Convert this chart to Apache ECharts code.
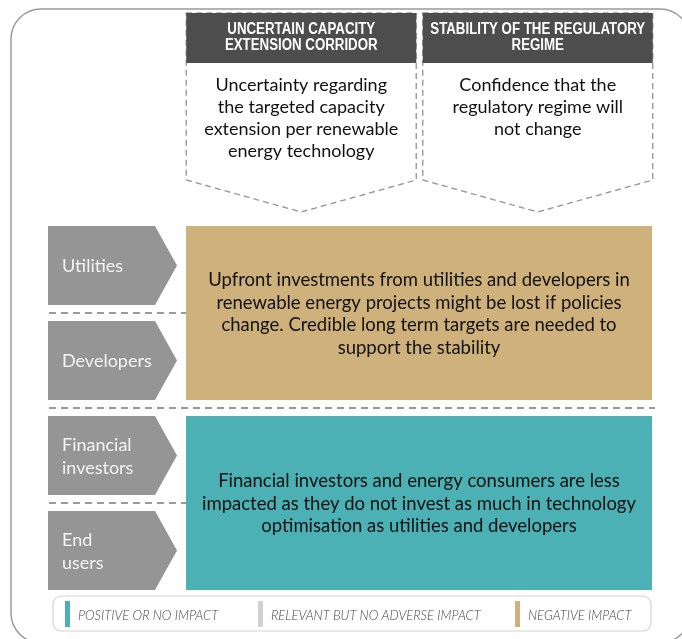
<!DOCTYPE html>
<html>
<head>
<meta charset="utf-8">
<script src="https://cdn.jsdelivr.net/npm/echarts@6/dist/echarts.min.js"></script>
<style>
  html, body { margin: 0; padding: 0; background: #fff; }
  #chart-container { width: 682px; height: 639px; }
</style>
</head>
<body>
<div id="chart-container"></div>
<script>
// Columns: the two policy aspects and their descriptions
const headers = ['UNCERTAIN CAPACITY\nEXTENSION CORRIDOR', 'STABILITY OF THE REGULATORY\nREGIME'];
const headerNotes = [
  'Uncertainty regarding\nthe targeted capacity\nextension per renewable\nenergy technology',
  'Confidence that the\nregulatory regime will\nnot change'
];

// Rows: stakeholders
const stakeholders = ['Utilities', 'Developers', 'Financial\ninvestors', 'End\nusers'];

// Impact levels (legend)
const impactLevels = ['POSITIVE OR NO IMPACT', 'RELEVANT BUT NO ADVERSE IMPACT', 'NEGATIVE IMPACT'];

// Impact blocks: first row, last row, impact level, text
const groupStartRow = [0, 2];
const groupEndRow = [1, 3];
const groupImpact = [2, 0];
const groupTexts = [
  'Upfront investments from utilities and developers in\nrenewable energy projects might be lost if policies\nchange. Credible long term targets are needed to\nsupport the stability',
  'Financial investors and energy consumers are less\nimpacted as they do not invest as much in technology\noptimisation as utilities and developers'
];

// styles
const impactColors = ['#4bb1b5', '#d1d1d1', '#cfb27b'];
const FONT = 'Lato, "Open Sans", sans-serif';
const BOLD = '"Liberation Sans", Arial, sans-serif';
const LEGEND_X = [65, 258, 515];

const chart = echarts.init(document.getElementById('chart-container'), null, { renderer: 'canvas' });

function chevronItem(params, api) {
  const row = api.value(1);
  const c = api.coord([0, row]);
  const size = api.size([1, 1]);
  const gridLeft = c[0] - size[0] / 2;
  const t = c[1] - size[1] / 2 + 8;
  const b = c[1] + size[1] / 2 - 8;
  const l = gridLeft - 135, br = gridLeft - 28, p = gridLeft - 6;
  return {
    type: 'group',
    children: [
      {
        type: 'polygon',
        shape: { points: [[l, t], [br, t], [p, c[1]], [br, b], [l, b]] },
        style: { fill: '#959595' }
      },
      {
        type: 'text',
        style: {
          text: stakeholders[row], x: l + 14, y: c[1] + 1,
          align: 'left', verticalAlign: 'middle',
          fontSize: 18, fontFamily: FONT, lineHeight: 23, fill: '#f4f4f4'
        }
      }
    ]
  };
}

function separatorItem(params, api) {
  const row = api.value(1); // boundary above this row
  const c = api.coord([0, row]);
  const size = api.size([1, 1]);
  const gridLeft = c[0] - size[0] / 2;
  const y = c[1] - size[1] / 2;
  const full = groupStartRow.indexOf(row) >= 0;
  const x2 = full ? gridLeft + size[0] * 2 - 1 : gridLeft + 3;
  return {
    type: 'line',
    shape: { x1: gridLeft - 134, y1: y, x2: x2, y2: y },
    style: { stroke: '#9a9a9a', lineWidth: 2, lineDash: [7, 5] }
  };
}

function impactItem(params, api) {
  const i = params.dataIndex;
  const top = api.coord([0, api.value(1)]);
  const bottom = api.coord([0, api.value(2)]);
  const size = api.size([1, 1]);
  const x0 = top[0] - size[0] / 2 + 3;
  const x1 = top[0] + size[0] * 1.5 - 4;
  const y0 = top[1] - size[1] / 2 + 8;
  const y1 = bottom[1] + size[1] / 2 - 8;
  return {
    type: 'group',
    children: [
      {
        type: 'rect',
        shape: { x: x0, y: y0, width: x1 - x0, height: y1 - y0 },
        style: { fill: impactColors[groupImpact[i]] }
      },
      {
        type: 'text',
        style: {
          text: groupTexts[i], x: (x0 + x1) / 2, y: (y0 + y1) / 2 + 1,
          align: 'center', verticalAlign: 'middle',
          fontSize: 18.5, fontFamily: FONT, lineHeight: 22.5, fill: '#111'
        }
      }
    ]
  };
}

function headerItem(params, api) {
  const col = api.value(0);
  const cx = api.coord([col, 0])[0];
  const w = 230;
  const x0 = cx - w / 2, x1 = cx + w / 2;
  return {
    type: 'group',
    children: [
      {
        type: 'polygon',
        shape: { points: [[x0, 13], [x1, 13], [x1, 180], [cx, 212], [x0, 180]] },
        style: { fill: '#fff', stroke: '#9a9a9a', lineWidth: 1.4, lineDash: [6, 4] }
      },
      {
        type: 'rect',
        shape: { x: x0, y: 13, width: w, height: 50 },
        style: { fill: '#4d4d4d' }
      },
      {
        // condensed bold title
        type: 'text',
        x: cx, y: 38, scaleX: 0.83,
        style: {
          text: headers[col], x: 0, y: 0,
          align: 'center', verticalAlign: 'middle',
          fontSize: 16, fontWeight: 'bold', fontFamily: BOLD, lineHeight: 16, fill: '#fff'
        }
      },
      {
        type: 'text',
        style: {
          text: headerNotes[col], x: cx, y: 74,
          align: 'center', verticalAlign: 'top',
          fontSize: 18, fontFamily: FONT, lineHeight: 22, fill: '#111'
        }
      }
    ]
  };
}

const legendGraphics = [
  {
    type: 'rect',
    shape: { x: 53, y: 596, width: 598, height: 35, r: 8 },
    style: { fill: '#fff', stroke: '#d4d4d4', lineWidth: 1.2 }
  }
];
impactLevels.forEach((name, i) => {
  legendGraphics.push({
    type: 'rect',
    shape: { x: LEGEND_X[i], y: 601, width: 5, height: 26 },
    style: { fill: impactColors[i] }
  });
  legendGraphics.push({
    type: 'text',
    style: {
      text: name, x: LEGEND_X[i] + 13, y: 616,
      align: 'left', verticalAlign: 'middle',
      fontSize: 13, fontStyle: 'italic', fontWeight: 300, fontFamily: FONT, fill: '#444'
    }
  });
});

chart.setOption({
  animation: false,
  grid: { left: 183, right: 26, top: 218, bottom: 41 },
  xAxis: { type: 'category', data: headers, show: false },
  yAxis: { type: 'category', data: stakeholders, inverse: true, show: false },
  graphic: [
    {
      type: 'rect', z: -10,
      shape: { x: 11, y: 9, width: 679, height: 634, r: 30 },
      style: { fill: '#fff', stroke: '#9a9a9a', lineWidth: 1.5 }
    },
    ...legendGraphics
  ],
  series: [
    {
      type: 'custom', name: 'headers',
      data: headers.map((h, i) => [i, 0]),
      renderItem: headerItem, silent: true, clip: false
    },
    {
      type: 'custom', name: 'separators',
      data: [1, 2, 3].map(r => [0, r]),
      renderItem: separatorItem, silent: true, clip: false
    },
    {
      type: 'custom', name: 'stakeholders',
      data: stakeholders.map((s, i) => [0, i]),
      renderItem: chevronItem, silent: true, clip: false
    },
    {
      type: 'custom', name: 'impacts',
      data: groupStartRow.map((s, i) => [0, s, groupEndRow[i]]),
      encode: { x: 0, y: [1, 2] },
      renderItem: impactItem, silent: true, clip: false
    }
  ]
});
</script>
</body>
</html>
